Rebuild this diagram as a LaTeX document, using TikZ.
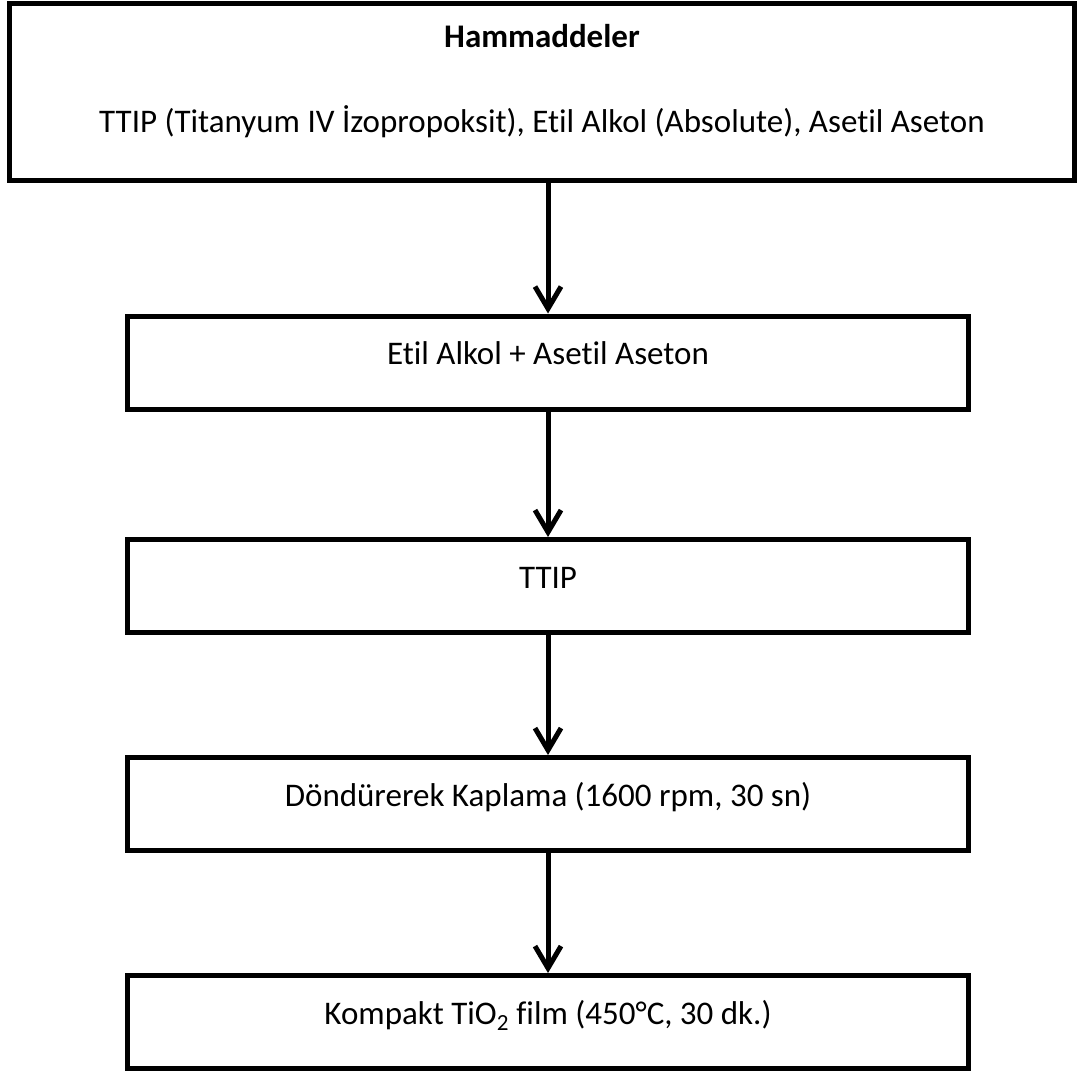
\documentclass[tikz,border=0pt]{standalone}
\usepackage{fontspec}
\setmainfont{Carlito}[Ligatures={TeX,NoCommon}]
\usepackage{tikz}
\usetikzlibrary{arrows.meta,positioning}
\tikzset{
    % Plain boxes, sharp corners
    headbox/.style={
        rectangle,
        draw=black,
        fill=white,
        line width=5pt,
        minimum width=1065pt,
        minimum height=177pt,
        text depth=26pt,
        align=center,
        font=\fontsize{33}{40}\selectfont
    },
    stepbox/.style={
        rectangle,
        draw=black,
        fill=white,
        line width=5pt,
        minimum width=841pt,
        minimum height=93pt,
        text height=25pt,
        text depth=21pt,
        align=center,
        font=\fontsize{33}{40}\selectfont
    },
    arrow/.style={
        -{Straight Barb[length=22pt,width=26pt,line width=5pt]},
        line width=5pt,
        color=black
    }
}
\begin{document}
\begin{tikzpicture}[x=1pt,y=-1pt]
    \useasboundingbox (0,0) rectangle (1078,1071);

    \node[headbox] (raw) at (542,91.5) {
        \textbf{Hammaddeler}\\[45pt]
        TTIP (Titanyum IV İzopropoksit), Etil Alkol (Absolute), Asetil Aseton
    };

    \node[stepbox, below=131pt of raw, xshift=6pt] (etil) {Etil Alkol + Asetil Aseton};

    \node[stepbox, below=125.5pt of etil] (ttip) {TTIP};

    \node[stepbox, below=120pt of ttip] (kaplama) {Döndürerek Kaplama (1600 rpm, 30 sn)};

    \node[stepbox, below=120pt of kaplama] (film) {Kompakt TiO\textsubscript{2} film (450°C, 30 dk.)};

    % Arrows
    \draw[arrow] (raw.south -| etil.north) -- (etil.north);
    \draw[arrow] (etil.south) -- (ttip.north);
    \draw[arrow] (ttip.south) -- (kaplama.north);
    \draw[arrow] (kaplama.south) -- (film.north);
\end{tikzpicture}
\end{document}
